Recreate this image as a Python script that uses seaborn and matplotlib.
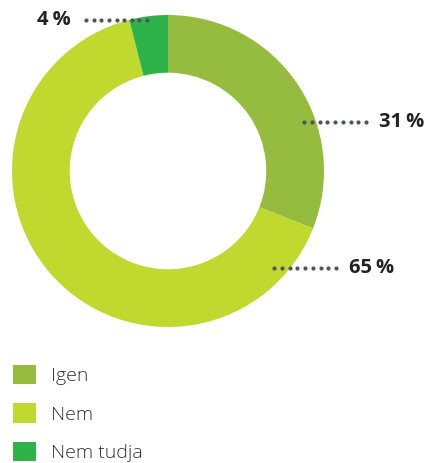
import numpy as np
import matplotlib
matplotlib.use("Agg")
import matplotlib.pyplot as plt
from matplotlib.patches import Patch
import seaborn as sns

# Survey answers and their shares (%)
categories = ["Igen", "Nem", "Nem tudja"]
shares = [31, 65, 4]
colors = ["#95bc3e", "#c1d82f", "#2db34a"]

sns.set_theme(style="white")
plt.rcParams["font.family"] = ["Open Sans", "DejaVu Sans"]

W, H = 430, 463
fig = plt.figure(figsize=(W / 100, H / 100), dpi=100)
fig.patch.set_facecolor("white")

# Donut: centre (168, 171) px, outer radius 156 px
cx, cy, R = 168, 171, 156
ax = fig.add_axes([(cx - R) / W, (H - cy - R) / H, 2 * R / W, 2 * R / H])
palette = sns.color_palette(colors)
wedges, _ = ax.pie(shares, colors=palette, startangle=90, counterclock=False,
                   radius=1.0, wedgeprops=dict(width=0.37, linewidth=0))
ax.set_xlim(-1, 1)
ax.set_ylim(-1, 1)
ax.set_aspect("equal")
ax.axis("off")

# Overlay in pixel coordinates for the leader dots and value labels
ov = fig.add_axes([0, 0, 1, 1], facecolor="none")
ov.set_xlim(0, W)
ov.set_ylim(H, 0)
ov.axis("off")

dot_color = "#4d5560"
label_color = "#222222"
# (dot start x, dot end x, y, label x, alignment)
leaders = {
    "Nem tudja": (86, 147, 20, 71, "right"),
    "Igen": (304, 366, 122, 379, "left"),
    "Nem": (274, 336, 268, 349, "left"),
}
for cat, val in zip(categories, shares):
    x0, x1, y, tx, ha = leaders[cat]
    xs = np.linspace(x0, x1, 9)
    ov.scatter(xs, np.full_like(xs, y), s=9, color=dot_color, linewidths=0, zorder=3)
    ov.text(tx, y, f"{val}\u2009%", ha=ha, va="center", fontsize=14.5,
            fontweight="bold", color=label_color)

handles = [Patch(facecolor=c, edgecolor="none") for c in palette]
leg = fig.legend(handles, categories, loc="upper left",
                 bbox_to_anchor=(5 / W, 1 - 357 / H), frameon=False,
                 fontsize=14, handlelength=1.2, handleheight=1.15,
                 handletextpad=0.75, labelspacing=0.95, borderaxespad=0)
for t in leg.get_texts():
    t.set_color("#333333")
    t.set_fontweight("light")

fig.savefig("out.png", dpi=100)
